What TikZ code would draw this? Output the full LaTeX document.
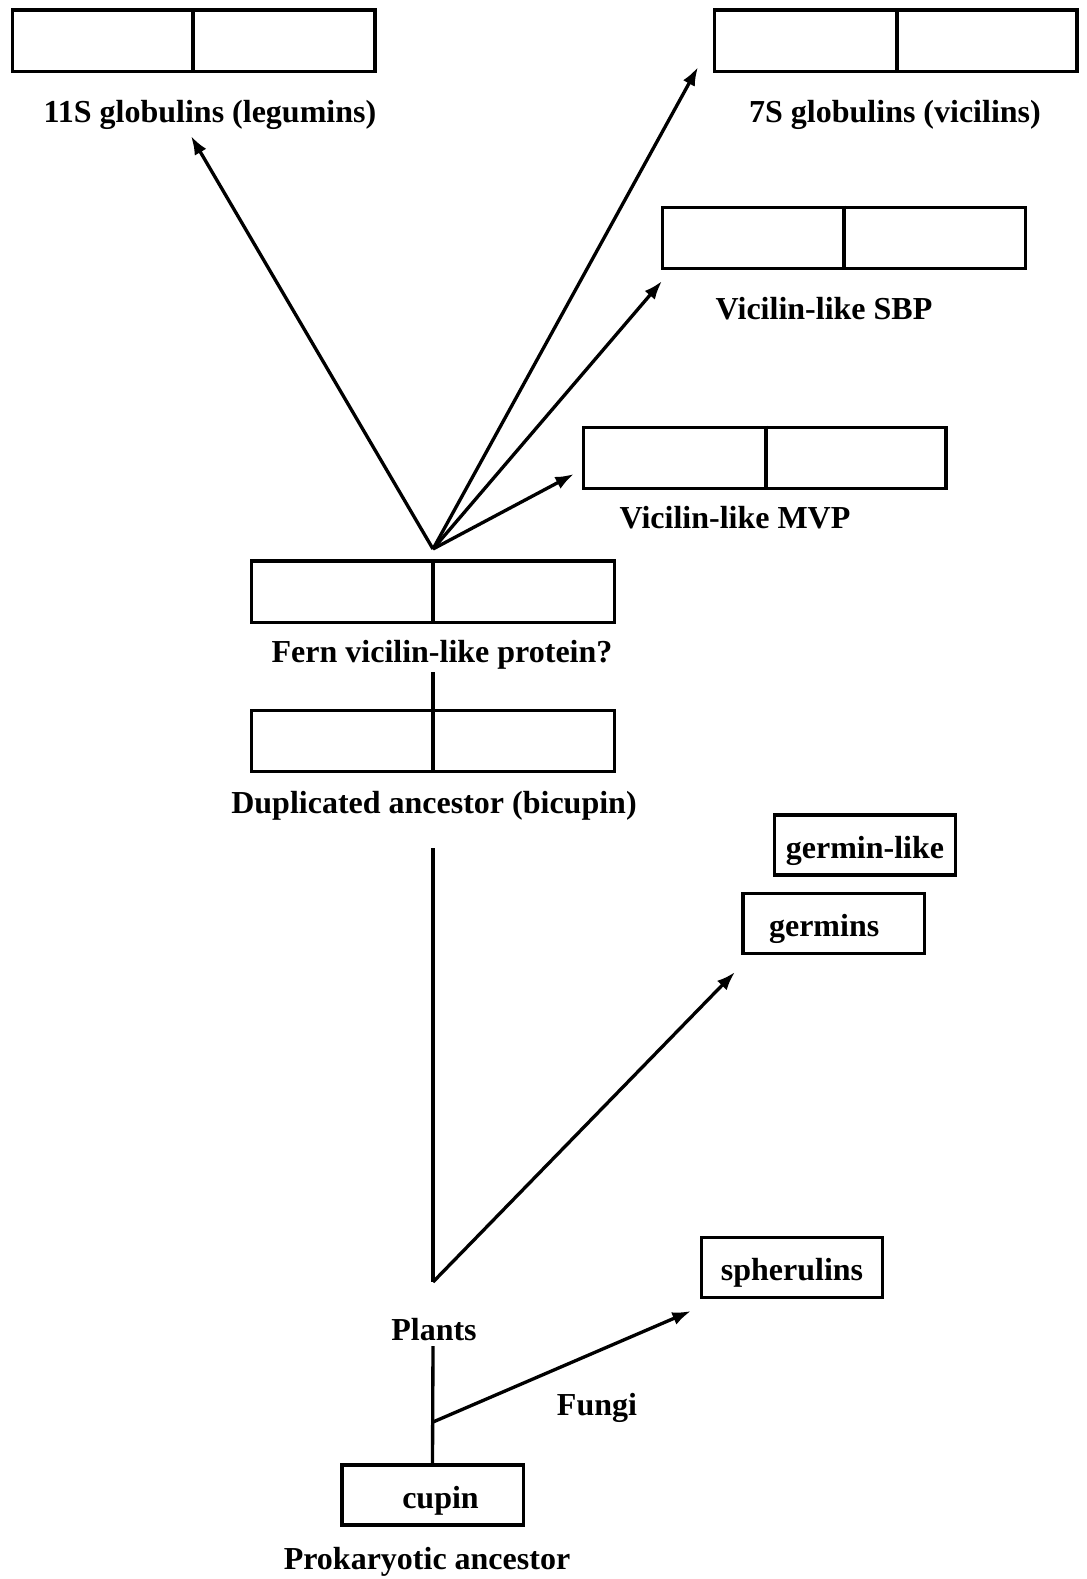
\documentclass[tikz,border=0pt]{standalone}
\usepackage{fontspec}
\setmainfont{Liberation Serif}
\usetikzlibrary{arrows.meta}
\begin{document}
\begin{tikzpicture}[x=0.75pt,y=-0.75pt,
  lw/.style={line width=2.5pt},
  dbox/.style={draw,lw,rectangle,minimum width=272pt,minimum height=46pt,inner sep=0pt},
  sbox/.style={draw,lw,rectangle,minimum width=136pt,minimum height=45pt,inner sep=0pt,text height=20pt,text depth=0pt,font=\fontsize{24pt}{26pt}\selectfont\bfseries},
  lbl/.style={font=\fontsize{24pt}{26pt}\selectfont\bfseries,inner sep=0pt},
  arr/.style={lw,-{Latex[length=14pt,width=10pt]}},
  ln/.style={lw}]
\useasboundingbox[fill=white] (0,0) rectangle (1087,1579);

% two-domain boxes
\node[dbox] (b11) at (193.5,40.5) {};
\node[dbox] (b7) at (895.5,40.5) {};
\node[dbox] (bsbp) at (844,238) {};
\node[dbox] (bmvp) at (764.5,458) {};
\node[dbox] (bfern) at (433,591.5) {};
\node[dbox] (bdup) at (433,741) {};
\foreach \b/\dx in {b11/-0.5,b7/1.5,bsbp/0,bmvp/1.5,bfern/0,bdup/0}{
  \draw[ln] ([xshift=\dx*0.75pt]\b.north) -- ([xshift=\dx*0.75pt]\b.south);
}

% labels
\node[lbl] (l11) at (210,115) {11S globulins (legumins)};
\node[lbl] (l7) at (895,115) {7S globulins (vicilins)};
\node[lbl] (lsbp) at (824,309) {Vicilin-like SBP};
\node[lbl] (lmvp) at (735,518) {Vicilin-like MVP};
\node[lbl] (lfern) at (442,655) {Fern vicilin-like protein?};
\node[lbl] (ldup) at (434,806) {Duplicated ancestor (bicupin)};
\node[lbl] (lplants) at (434,1330) {Plants};
\node[lbl] (lfungi) at (597,1408) {Fungi};
\node[lbl] (lprok) at (427,1562) {Prokaryotic ancestor};

% single-domain boxes
\node[sbox] (bgl) at (865,845) {germin-like};
\node[sbox] (bg) at (833.5,923.5) {\hspace{-14pt}germins};
\node[sbox] (bsph) at (792,1267.5) {spherulins};
\node[sbox] (bcup) at (432.5,1495) {\hspace{12pt}cupin};

% coordinates
\coordinate (apex) at (433,549);
\coordinate (t11) at (191,136);
\coordinate (t7) at (698,67);
\coordinate (tsbp) at (662,281);
\coordinate (tmvp) at (574,474);
\coordinate (fernbot) at (433,672);
\coordinate (duptop) at (433,848);
\coordinate (plantfork) at (433,1282);
\coordinate (tgerm) at (735,972);
\coordinate (plantsbot) at (433,1346);
\coordinate (fungfork) at (433,1422);
\coordinate (tsph) at (691,1311);

% connectors
\draw[arr] (apex) -- (t11);
\draw[arr] (apex) -- (t7);
\draw[arr] (apex) -- (tsbp);
\draw[arr] (apex) -- (tmvp);
\draw[ln] (fernbot) -- (bdup.north);
\draw[ln] (duptop) -- (plantfork);
\draw[arr] (plantfork) -- (tgerm);
\draw[ln] (plantsbot) -- (bcup.north);
\draw[arr] (fungfork) -- (tsph);
\end{tikzpicture}
\end{document}
